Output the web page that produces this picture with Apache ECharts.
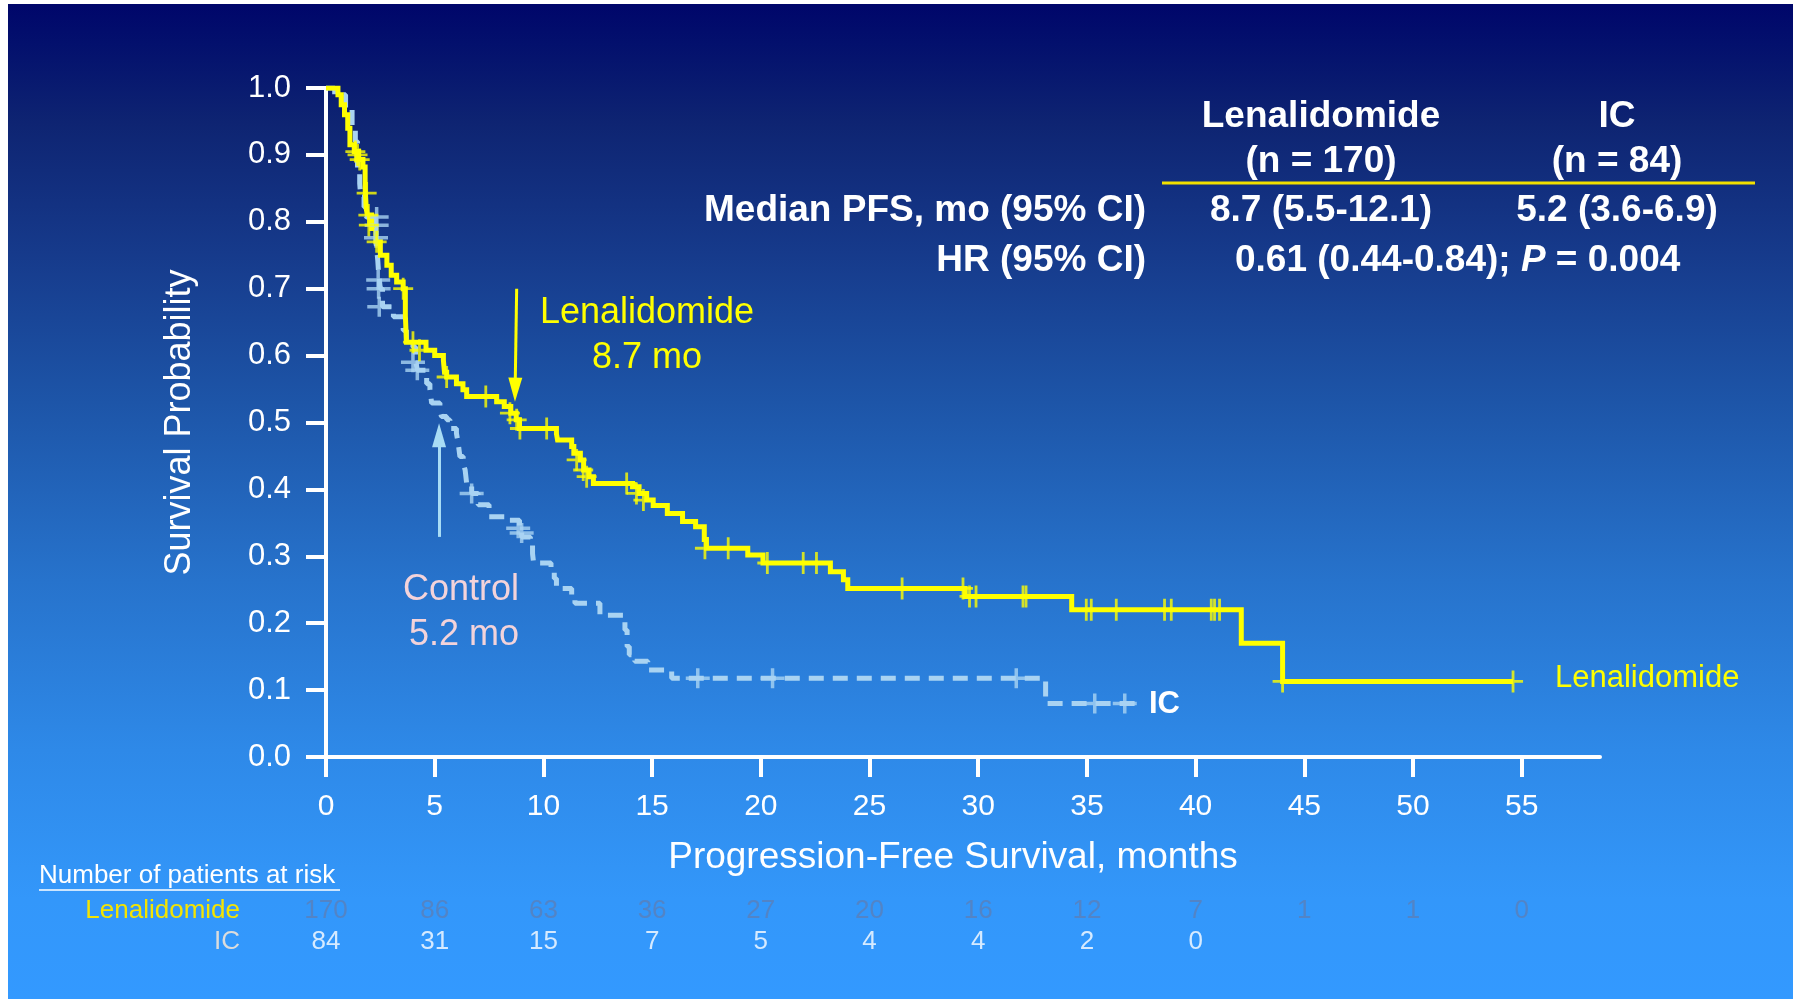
<!DOCTYPE html>
<html>
<head>
<meta charset="utf-8">
<title>Progression-Free Survival: Lenalidomide vs IC</title>
<script src="https://cdn.jsdelivr.net/npm/echarts@6/dist/echarts.min.js"></script>
<style>
  html, body { margin: 0; padding: 0; background: #ffffff; }
  #chart { width: 1801px; height: 999px; }
</style>
</head>
<body>
<div id="chart"></div>
<script>
// ---- Data -----------------------------------------------------------------
// Month ticks on the x axis and probability ticks on the y axis
const monthTicks = [0, 5, 10, 15, 20, 25, 30, 35, 40, 45, 50, 55];
const probTicks = [0, 0.1, 0.2, 0.3, 0.4, 0.5, 0.6, 0.7, 0.8, 0.9, 1.0];

// Kaplan–Meier steps: [month, survival probability after the drop]
const lenSteps = [
  [0, 1.0], [0.55, 0.99], [0.7, 0.975], [0.85, 0.96], [1.0, 0.94], [1.1, 0.915],
  [1.3, 0.905], [1.5, 0.893], [1.7, 0.882], [1.8, 0.85], [1.85, 0.82], [1.9, 0.81],
  [2.1, 0.79], [2.3, 0.77], [2.5, 0.75], [2.8, 0.735], [3.0, 0.72], [3.25, 0.71],
  [3.55, 0.70], [3.65, 0.66], [3.7, 0.62], [4.6, 0.608], [5.0, 0.60], [5.4, 0.593],
  [5.45, 0.575], [5.55, 0.568], [6.0, 0.558], [6.3, 0.549], [6.47, 0.539], [7.85, 0.531],
  [8.2, 0.524], [8.5, 0.514], [8.75, 0.504], [8.9, 0.491], [10.6, 0.483], [10.65, 0.474],
  [11.3, 0.464], [11.4, 0.454], [11.7, 0.444], [11.85, 0.429], [12.1, 0.419], [12.3, 0.409],
  [14.1, 0.404], [14.4, 0.394], [14.75, 0.384], [15.05, 0.376], [15.7, 0.364], [16.4, 0.352],
  [17.0, 0.344], [17.4, 0.325], [17.5, 0.312], [19.4, 0.302], [20.1, 0.29], [23.2, 0.277],
  [23.8, 0.265], [24.0, 0.252], [29.4, 0.24], [34.3, 0.22], [42.1, 0.17], [44.0, 0.113],
  [54.6, 0.113]
];
const lenCensors = [
  [1.35, 0.905], [1.45, 0.9], [1.55, 0.893], [1.87, 0.843], [1.95, 0.81], [1.97, 0.795],
  [2.33, 0.77], [3.55, 0.70], [4.0, 0.62], [4.3, 0.608], [5.55, 0.568], [7.35, 0.539],
  [8.46, 0.514], [8.77, 0.504], [8.92, 0.491], [10.15, 0.491], [11.53, 0.444], [11.83, 0.429],
  [11.99, 0.419], [13.83, 0.409], [14.28, 0.394], [14.6, 0.384], [17.43, 0.312], [18.5, 0.312],
  [20.3, 0.29], [21.95, 0.29], [22.56, 0.29], [26.5, 0.252], [29.3, 0.252], [29.6, 0.24],
  [29.9, 0.24], [32.06, 0.24], [32.2, 0.24], [34.97, 0.22], [35.2, 0.22], [36.35, 0.22],
  [38.57, 0.22], [38.88, 0.22], [40.72, 0.22], [40.87, 0.22], [41.1, 0.22], [44.0, 0.113],
  [54.6, 0.113]
];

const icSteps = [
  [0, 1.0], [0.4, 0.99], [0.9, 0.97], [1.2, 0.94], [1.35, 0.92], [1.45, 0.88],
  [1.55, 0.857], [1.6, 0.837], [1.75, 0.822], [1.85, 0.807], [2.2, 0.795], [2.3, 0.77],
  [2.38, 0.743], [2.42, 0.723], [2.5, 0.70], [2.6, 0.673], [3.1, 0.658], [3.55, 0.638],
  [3.7, 0.623], [4.0, 0.613], [4.12, 0.593], [4.2, 0.578], [4.63, 0.558], [4.78, 0.549],
  [4.86, 0.529], [5.24, 0.519], [5.31, 0.509], [5.55, 0.504], [5.7, 0.491], [6.0, 0.484],
  [6.08, 0.469], [6.16, 0.449], [6.31, 0.439], [6.4, 0.429], [6.47, 0.409], [6.7, 0.394],
  [7.0, 0.377], [7.5, 0.359], [8.4, 0.354], [8.9, 0.342], [9.0, 0.329], [9.4, 0.319],
  [9.5, 0.304], [9.55, 0.29], [10.35, 0.28], [10.5, 0.267], [10.6, 0.252], [11.3, 0.242],
  [11.45, 0.23], [12.6, 0.212], [13.75, 0.19], [13.85, 0.165], [13.95, 0.153], [14.2, 0.143],
  [14.8, 0.13], [15.9, 0.1176], [33.1, 0.08], [37.2, 0.08]
];
const icCensors = [
  [2.33, 0.807], [2.33, 0.795], [2.3, 0.776], [2.4, 0.713], [2.42, 0.70], [2.45, 0.673],
  [4.0, 0.59], [4.2, 0.578], [6.7, 0.394], [8.84, 0.342], [9.0, 0.335], [17.1, 0.1176],
  [20.54, 0.1176], [31.75, 0.1176], [35.36, 0.08], [36.74, 0.08]
];

// Median PFS (months) for each arm
const lenMedian = 8.7;
const icMedian = 5.2;

// Number of patients at risk at each month tick
const riskRows = ['Lenalidomide', 'IC'];
const lenAtRisk = [170, 86, 63, 36, 27, 20, 16, 12, 7, 1, 1, 0];
const icAtRisk = [84, 31, 15, 7, 5, 4, 4, 2, 0];

// ---- Styling ----------------------------------------------------------------
const FONT = "'Liberation Sans', Arial, Helvetica, sans-serif";
const YELLOW = '#ffff00';
const IC_BLUE = '#a9d3f2';
const WHITE = '#ffffff';

// "+" censor marks drawn as filled crosses, sized 1:1 with symbolSize
const PLUS_LEN = 'path://M8.6,0 H11.4 V9.6 H20 V12.4 H11.4 V22 H8.6 V12.4 H0 V9.6 H8.6 Z';
const PLUS_IC = 'path://M10.25,0 H13.75 V8.25 H24 V11.75 H13.75 V20 H10.25 V11.75 H0 V8.25 H10.25 Z';

const chart = echarts.init(document.getElementById('chart'), null, { renderer: 'canvas', width: 1801, height: 999 });

function text(x, y, str, opts) {
  return {
    type: 'text', x: x, y: y, z: 50,
    style: Object.assign({
      text: str, fill: WHITE, fontFamily: FONT, fontSize: 37,
      align: 'center', verticalAlign: 'middle'
    }, opts || {})
  };
}

const option = {
  animation: false,
  backgroundColor: 'transparent',
  grid: [
    { left: 326, top: 88, right: 201, bottom: 242, outerBoundsMode: 'none' },
    { left: 326, right: 201, top: 895, height: 62, outerBoundsMode: 'none' }
  ],
  xAxis: [
    {
      type: 'value', min: 0, max: 58.6, interval: 5,
      axisLine: { show: true, onZero: false, lineStyle: { color: WHITE, width: 4 } },
      axisTick: { show: true, inside: false, length: 20, customValues: monthTicks, lineStyle: { color: WHITE, width: 4 } },
      axisLabel: {
        customValues: monthTicks, color: WHITE, fontFamily: FONT, fontSize: 30, margin: 35,
        formatter: v => (monthTicks.indexOf(v) >= 0 ? String(v) : '')
      },
      splitLine: { show: false },
      name: 'Progression-Free Survival, months',
      nameLocation: 'middle', nameGap: 82,
      nameTextStyle: { color: WHITE, fontFamily: FONT, fontSize: 37, padding: [0, 20, 0, 0] }
    },
    { gridIndex: 1, type: 'value', min: 0, max: 58.6, show: false }
  ],
  yAxis: [
    {
      type: 'value', min: 0, max: 1, interval: 0.1,
      axisLine: { show: true, onZero: false, lineStyle: { color: WHITE, width: 4 } },
      axisTick: { show: true, inside: false, length: 20, lineStyle: { color: WHITE, width: 4 } },
      axisLabel: {
        color: WHITE, fontFamily: FONT, fontSize: 31, margin: 35,
        formatter: v => (probTicks.some(p => Math.abs(p - v) < 1e-6) ? v.toFixed(1) : '')
      },
      splitLine: { show: false },
      name: 'Survival Probability',
      nameLocation: 'middle', nameGap: 128, nameRotate: 90,
      nameTextStyle: { color: WHITE, fontFamily: FONT, fontSize: 36 }
    },
    {
      gridIndex: 1, type: 'category', data: riskRows, inverse: true,
      axisLine: { show: false }, axisTick: { show: false }, splitLine: { show: false },
      axisLabel: {
        show: true, interval: 0, hideOverlap: false,
        margin: 86, fontFamily: FONT, fontSize: 26,
        color: (v) => (v === 'Lenalidomide' ? '#f5e400' : '#dcdcdc')
      }
    }
  ],
  series: [
    {
      name: 'IC', type: 'line', step: 'end', data: icSteps, symbol: 'none', z: 2,
      lineStyle: { color: IC_BLUE, width: 5, type: [15, 9], cap: 'butt' },
      markLine: {
        silent: true, symbol: ['none', 'triangle'], symbolSize: [14, 24],
        label: { show: false },
        lineStyle: { color: '#a8dcf5', width: 3, type: 'solid' },
        data: [[{ coord: [icMedian, 0.329] }, { coord: [icMedian, 0.481] }]]
      }
    },
    {
      name: 'Lenalidomide', type: 'line', step: 'end', data: lenSteps, symbol: 'none', z: 3,
      lineStyle: { color: YELLOW, width: 5, join: 'miter' },
      markLine: {
        silent: true, symbol: ['none', 'triangle'], symbolSize: [14, 24],
        label: { show: false },
        lineStyle: { color: YELLOW, width: 3, type: 'solid' },
        data: [[{ coord: [lenMedian + 0.07, 0.70] }, { coord: [lenMedian, 0.549] }]]
      }
    },
    {
      name: 'IC censored', type: 'scatter', data: icCensors, symbol: PLUS_IC,
      symbolSize: [24, 20], itemStyle: { color: IC_BLUE }, z: 4, silent: true
    },
    {
      name: 'Lenalidomide censored', type: 'scatter', data: lenCensors, symbol: PLUS_LEN,
      symbolSize: [20, 22], itemStyle: { color: YELLOW }, z: 5, silent: true
    },
    {
      name: 'At risk: Lenalidomide', type: 'scatter', xAxisIndex: 1, yAxisIndex: 1,
      data: lenAtRisk.map((n, i) => [monthTicks[i], riskRows[0], n]),
      symbolSize: 0, silent: true,
      label: { show: true, position: 'inside', formatter: p => String(p.value[2]), color: '#5a80b9', fontFamily: FONT, fontSize: 26 }
    },
    {
      name: 'At risk: IC', type: 'scatter', xAxisIndex: 1, yAxisIndex: 1,
      data: icAtRisk.map((n, i) => [monthTicks[i], riskRows[1], n]),
      symbolSize: 0, silent: true,
      label: { show: true, position: 'inside', formatter: p => String(p.value[2]), color: WHITE, fontFamily: FONT, fontSize: 26 }
    }
  ],
  graphic: [
    // slide background
    {
      type: 'rect', z: -100, silent: true,
      shape: { x: 8, y: 4, width: 1785, height: 995 },
      style: {
        fill: {
          type: 'linear', x: 0, y: 0, x2: 0, y2: 1,
          colorStops: [
            { offset: 0.0, color: '#00066a' },
            { offset: 0.04, color: '#03106d' },
            { offset: 0.12, color: '#0e2472' },
            { offset: 0.25, color: '#163a8b' },
            { offset: 0.40, color: '#1d55a8' },
            { offset: 0.58, color: '#2773cc' },
            { offset: 0.75, color: '#2e89e8' },
            { offset: 0.90, color: '#3397fa' },
            { offset: 1.0, color: '#3399ff' }
          ]
        }
      }
    },
    // summary table
    text(1321, 117, 'Lenalidomide', { fontWeight: 'bold' }),
    text(1617, 117, 'IC', { fontWeight: 'bold' }),
    text(1321, 162, '(n = 170)', { fontWeight: 'bold' }),
    text(1617, 162, '(n = 84)', { fontWeight: 'bold' }),
    { type: 'line', z: 50, shape: { x1: 1162, y1: 183, x2: 1755, y2: 183 }, style: { stroke: '#f2e000', lineWidth: 3 } },
    text(1146, 211, 'Median PFS, mo (95% CI)', { fontWeight: 'bold', align: 'right' }),
    text(1321, 211, '8.7 (5.5-12.1)', { fontWeight: 'bold' }),
    text(1617, 211, '5.2 (3.6-6.9)', { fontWeight: 'bold' }),
    text(1146, 261, 'HR (95% CI)', { fontWeight: 'bold', align: 'right' }),
    text(1235, 261, '0.61 (0.44-0.84); {i|P} = 0.004', {
      fontWeight: 'bold', align: 'left',
      rich: { i: { fontStyle: 'italic', fontWeight: 'bold', fontSize: 37, fontFamily: FONT, fill: WHITE } }
    }),
    // median annotations
    text(647, 313, 'Lenalidomide', { fill: YELLOW, fontSize: 36 }),
    text(647, 358, '8.7 mo', { fill: YELLOW, fontSize: 36 }),
    text(461, 590, 'Control', { fill: '#f3d3da', fontSize: 36 }),
    text(464, 635, '5.2 mo', { fill: '#f3d3da', fontSize: 36 }),
    // curve end labels
    text(1149, 704, 'IC', { fontWeight: 'bold', fontSize: 31, align: 'left' }),
    text(1555, 678, 'Lenalidomide', { fill: YELLOW, fontSize: 31, align: 'left' }),
    // at-risk table heading
    text(39, 876, 'Number of patients at risk', { fontSize: 26, align: 'left' }),
    { type: 'line', z: 50, shape: { x1: 39, y1: 890, x2: 340, y2: 890 }, style: { stroke: WHITE, lineWidth: 1.5 } }
  ]
};

chart.setOption(option);
</script>
</body>
</html>
